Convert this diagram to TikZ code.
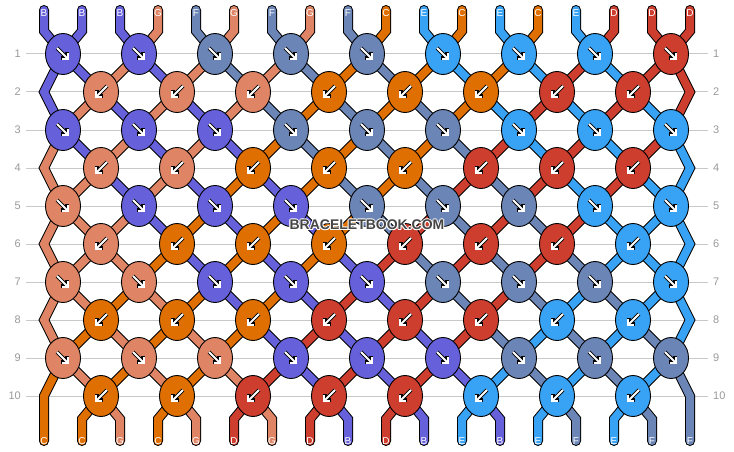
\documentclass[tikz,border=0pt]{standalone}
\usepackage{fontspec}
\setmainfont{Liberation Sans}
\usepackage{tikz}
\usetikzlibrary{shapes.geometric, arrows.meta, backgrounds}
\definecolor{strB}{HTML}{6661DA}
\definecolor{strC}{HTML}{DF6F00}
\definecolor{strD}{HTML}{CE3E2F}
\definecolor{strE}{HTML}{38A2F5}
\definecolor{strF}{HTML}{6B85B6}
\definecolor{strG}{HTML}{DF8565}
\definecolor{rowgrey}{HTML}{C8C8C8}
\definecolor{numgrey}{HTML}{9A9A9A}
\definecolor{markgrey}{HTML}{454545}
\pgfmathdeclarefunction{fold}{1}{\pgfmathparse{int(ifthenelse(mod(#1+35,36)<18, mod(#1+35,36)+1, 36-mod(#1+35,36)))}}

\begin{document}
\begin{tikzpicture}[x=1pt, y=-1pt]
\tikzstyle{knot} = [ellipse, draw, line width=0.9pt, minimum width=35pt, minimum height=41pt, inner sep=0pt]
\tikzstyle{strand} = [line width=1pt, double distance=8pt, line cap=round, line join=miter]
\tikzstyle{arrowedge} = [-{Straight Barb[length=4.5pt, width=9pt]}, line width=3.6pt, black]
\tikzstyle{arrowcore} = [-{Straight Barb[length=4.5pt, width=9pt]}, line width=2pt, white]
\tikzstyle{rownum} = [text=numgrey, font=\fontsize{11}{13}\selectfont, inner sep=0pt]
\tikzstyle{strlabel} = [text=white, font=\fontsize{10}{12}\selectfont, inner sep=0pt]
\tikzstyle{rowline} = [rowgrey, line width=1pt]
\tikzstyle{wmark} = [font=\fontsize{14}{16}\selectfont\bfseries, inner sep=0pt]
\path[use as bounding box] (0,0) rectangle (734,452);
% string ends
\foreach \p in {1,...,18} {
    \pgfmathsetmacro\sx{44+38*(\p-1)}
    \coordinate (tt-\p) at (\sx,10);
    \coordinate (tb-\p) at (\sx,31);
    \coordinate (bb-\p) at (\sx,419);
    \coordinate (be-\p) at (\sx,441);
}
% row numbers
\foreach \r in {1,...,10} {
    \node[rownum, anchor=east] (ll-\r) at (21, {54+38*(\r-1)}) {\r};
    \node[rownum, anchor=west] (lr-\r) at (713, {54+38*(\r-1)}) {\r};
}
% knots
\foreach \r/\cols in {1/{B,B,F,F,F,E,E,E,D}, 2/{G,G,G,C,C,C,D,D}, 3/{B,B,B,F,F,F,E,E,E}, 4/{G,G,C,C,C,D,D,D}, 5/{G,B,B,B,F,F,F,E,E}, 6/{G,C,C,C,D,D,D,E}, 7/{G,G,B,B,B,F,F,F,E}, 8/{C,C,C,D,D,D,E,E}, 9/{G,G,G,B,B,B,F,F,F}, 10/{C,C,D,D,D,E,E,E}} {
    \pgfmathsetmacro\ky{54+38*(\r-1)}
    \pgfmathsetmacro\ax{12*mod(\r,2)-6}
    \pgfmathsetmacro\bx{6-12*mod(\r,2)}
    \foreach \col [count=\c] in \cols {
        \pgfmathsetmacro\kx{101-38*mod(\r,2)+76*(\c-1)}
        \node[knot, fill=str\col] (n-\r-\c) at (\kx,\ky) {};
        \draw[arrowedge] ([shift={(\bx,-6)}]n-\r-\c.center) -- ([shift={(\ax,6)}]n-\r-\c.center);
        \draw[arrowcore] ([shift={(\bx,-6)}]n-\r-\c.center) -- ([shift={(\ax,6)}]n-\r-\c.center);
    }
}
\foreach \r in {2,4,...,10} {
    \coordinate (n-\r-0) at (44, {54+38*(\r-1)});
    \coordinate (n-\r-9) at (690, {54+38*(\r-1)});
}
\begin{scope}[on background layer]
    \fill[white] (0,0) rectangle (734,452);
    \foreach \r in {1,...,10}
        \draw[rowline] ([xshift=5pt]ll-\r.east) -- ([xshift=-5pt]lr-\r.west);
\end{scope}
% strings
\foreach \col [count=\p] in {B,B,B,G,F,G,F,G,F,C,E,C,E,C,E,D,D,D} {
    \pgfmathtruncatemacro\dir{2*mod(\p,2)-1}
    \pgfmathtruncatemacro\q{fold(\p+10*(\dir))}
    \begin{scope}[on background layer]
        \draw[strand, double=str\col] (tt-\p) -- (tb-\p)
            \foreach \r [evaluate={\r as \c using int(floor((fold(\p+(\dir)*(\r-1))+mod(\r,2))/2))}] in {1,...,10} { -- (n-\r-\c.center) }
            -- (bb-\q) -- (be-\q);
    \end{scope}
    \node[strlabel] (lt-\p) at ([yshift=-3pt]tt-\p) {\col};
    \node[strlabel] (lb-\p) at (be-\q) {\col};
}
% watermark
\foreach \a in {0,45,...,315}
    \node[wmark, text=white] (wm-\a) at ([shift={(\a:1)}]367,225) {BRACELETBOOK.COM};
\node[wmark, text=markgrey] (wm) at (367,225) {BRACELETBOOK.COM};
\end{tikzpicture}
\end{document}
